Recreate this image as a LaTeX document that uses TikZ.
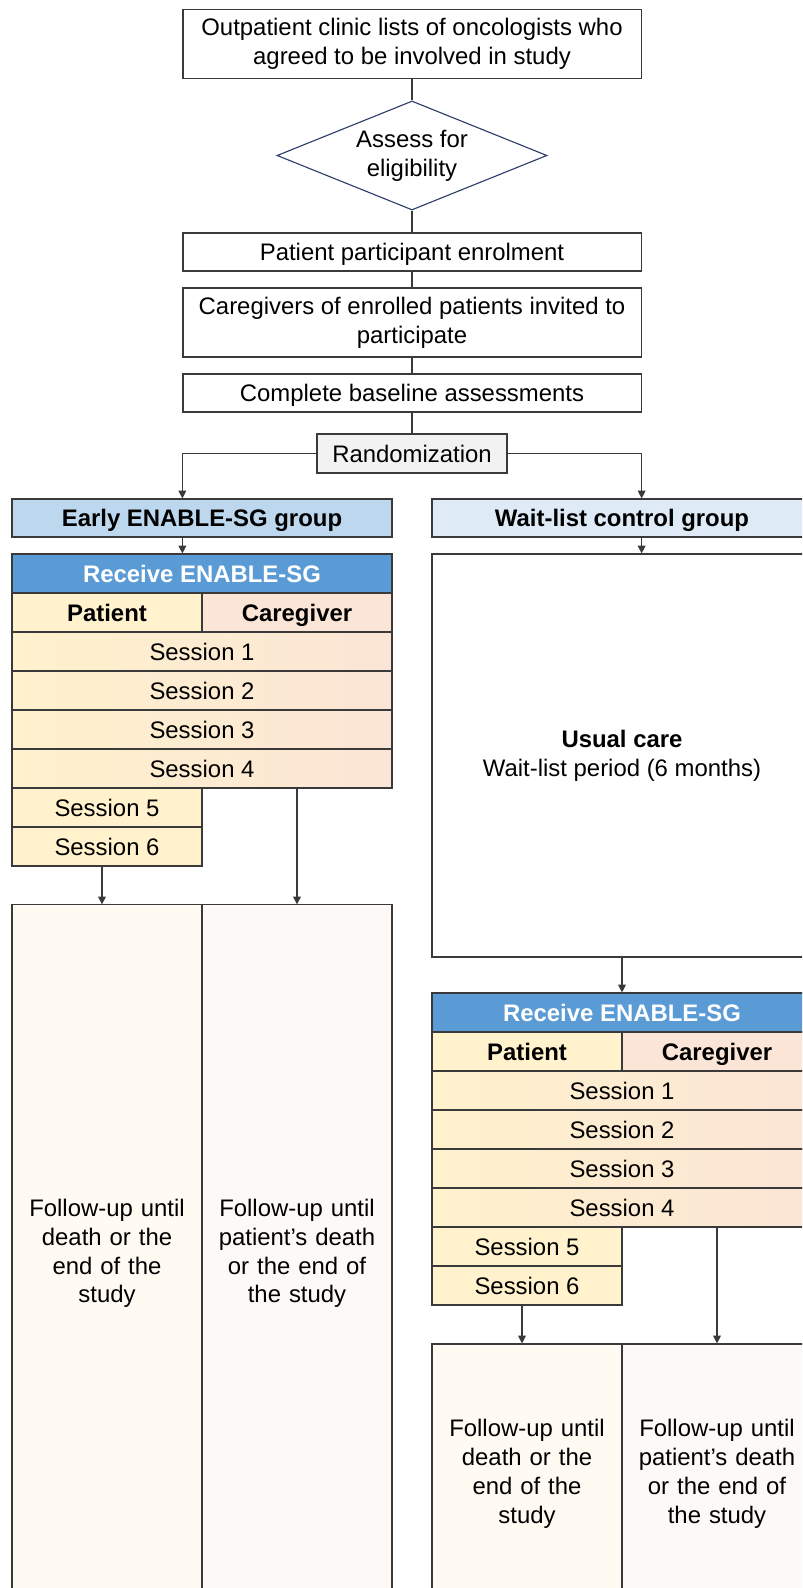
\documentclass[tikz,border=0pt]{standalone}
\usepackage{fontspec}
\setmainfont{Liberation Sans}
\usetikzlibrary{shapes.geometric, arrows.meta, positioning, calc}

\definecolor{edgegray}{HTML}{3A3A3A}
\definecolor{diamondblue}{HTML}{2E3D6B}
\definecolor{earlyblue}{HTML}{BDD7EE}
\definecolor{waitblue}{HTML}{DEEBF7}
\definecolor{recvblue}{HTML}{5B9BD5}
\definecolor{ptyellow}{HTML}{FFF2CC}
\definecolor{cgpeach}{HTML}{FBE5D6}
\definecolor{fuyellow}{HTML}{FFFBF2}
\definecolor{fupeach}{HTML}{FDF9F6}
\definecolor{randgray}{HTML}{F2F2F2}

\newcommand{\flowfont}{\fontsize{17}{20.5}\selectfont}

\tikzset{
  cell/.style={draw=edgegray, line width=0.8pt, inner sep=0pt, align=center, font=\flowfont},
  oneline/.style={text height=14pt, text depth=1.4pt},
  stagebox/.style={cell, fill=white, minimum width=11.45cm},
  checkbox/.style={draw=diamondblue, line width=0.8pt, fill=white, shape=diamond, aspect=2.48,
    minimum width=6.75cm, minimum height=2.725cm, inner sep=0pt, align=center, font=\flowfont},
  randbox/.style={cell, oneline, fill=randgray, minimum width=4.75cm, minimum height=0.975cm},
  groupbox/.style={cell, oneline, minimum width=9.5cm, minimum height=0.95cm, font=\flowfont\bfseries},
  recvbox/.style={cell, oneline, fill=recvblue, text=white, minimum width=9.5cm, minimum height=0.975cm, font=\flowfont\bfseries},
  headbox/.style={cell, oneline, minimum width=4.75cm, minimum height=0.975cm, font=\flowfont\bfseries},
  sessionrow/.style={cell, oneline, left color=ptyellow, right color=cgpeach, minimum width=9.5cm, minimum height=0.975cm},
  sessionhalf/.style={cell, oneline, fill=ptyellow, minimum width=4.75cm, minimum height=0.975cm},
  followbox/.style={cell, minimum width=4.75cm, text width=4.5cm},
  link/.style={draw=edgegray, line width=0.8pt},
  arrowlink/.style={link, -{Triangle[length=5.5pt,width=5.5pt]}}
}

\begin{document}
\begin{tikzpicture}[x=0.025cm, y=-0.025cm]
    \clip (0,0) rectangle (802,1588);

    % Flusso centrale
    \node[stagebox, minimum height=1.725cm] (lists) at (412,43.8) {Outpatient clinic lists of oncologists who\\agreed to be involved in study};
    \node[checkbox] (assess) at (412,155.5) {Assess for\\eligibility};
    \node[stagebox, oneline, minimum height=0.95cm] (enrol) at (412,252) {Patient participant enrolment};
    \node[stagebox, minimum height=1.725cm] (invite) at (412,322.5) {Caregivers of enrolled patients invited to\\participate};
    \node[stagebox, oneline, minimum height=0.95cm] (baseline) at (412,393) {Complete baseline assessments};
    \node[randbox] (random) at (412,453.5) {Randomization};

    \draw[link] (lists) -- (assess);
    \draw[link] (assess) -- (enrol);
    \draw[link] (enrol) -- (invite);
    \draw[link] (invite) -- (baseline);
    \draw[link] (baseline) -- (random);

    % Gruppi
    \node[groupbox, fill=earlyblue] (early) at (202,518) {Early ENABLE-SG group};
    \node[groupbox, fill=waitblue] (wait) at (622,518) {Wait-list control group};
    \node[cell, fill=white, minimum width=9.5cm, minimum height=10.075cm] (usual) at (622,755.5) {\textbf{Usual care}\\Wait-list period (6 months)};

    \draw[arrowlink] (random.west) -| (early.north -| baseline.west);
    \draw[arrowlink] (random.east) -| (wait.north -| baseline.east);
    \draw[arrowlink] (wait.south -| baseline.east) -- (usual.north -| baseline.east);

    % Sessioni ENABLE-SG
    \foreach \arm/\dx/\dy/\fuy/\fuh in {L/0/0/1253.5/17.425cm, R/420/439/1474/6.5cm} {
        \node[recvbox] (recv\arm) at (202+\dx,573.5+\dy) {Receive ENABLE-SG};
        \node[headbox, fill=ptyellow] (pt\arm) at (107+\dx,612.5+\dy) {Patient};
        \node[headbox, fill=cgpeach] (cg\arm) at (297+\dx,612.5+\dy) {Caregiver};
        \foreach \s in {1,...,4}
            \node[sessionrow] (s\s\arm) at (202+\dx,612.5+39*\s+\dy) {Session \s};
        \foreach \s in {5,6}
            \node[sessionhalf] (s\s\arm) at (107+\dx,612.5+39*\s+\dy) {Session \s};
        \node[followbox, fill=fuyellow, minimum height=\fuh] (fup\arm) at (107+\dx,\fuy) {Follow-up until\\death or the\\end of the\\study};
        \node[followbox, fill=fupeach, minimum height=\fuh] (fuc\arm) at (297+\dx,\fuy) {Follow-up until\\patient’s death\\or the end of\\the study};
        \draw[arrowlink] ([xshift=-0.125cm]s6\arm.south) -- ([xshift=-0.125cm]fup\arm.north);
        \draw[arrowlink] (s4\arm.south -| fuc\arm.north) -- (fuc\arm.north);
    }

    \draw[arrowlink] (early.south -| baseline.west) -- (recvL.north -| baseline.west);
    \draw[arrowlink] (usual.south) -- (recvR.north);
\end{tikzpicture}
\end{document}
